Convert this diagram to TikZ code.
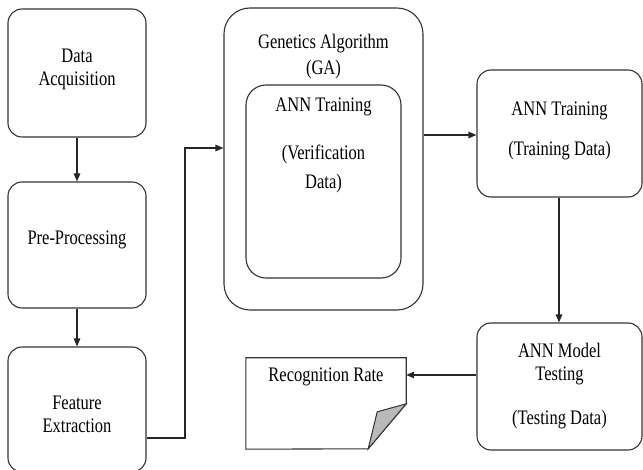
\documentclass[tikz,border=0pt]{standalone}
\usepackage{fontspec}
\usepackage{graphicx}
\setmainfont{Liberation Serif}
\usetikzlibrary{arrows.meta}

% tall narrow lettering, as in the original
\newcommand{\boxtext}[2][0pt]{\raisebox{#1}[\height][\depth]{\scalebox{1}[1.25]{\begin{tabular}{@{}c@{}}#2\end{tabular}}}}

\tikzset{
    >={Triangle[length=8pt,width=6.5pt]},
    box/.style={draw=black!80, line width=1.1pt, rounded corners=14pt, font=\fontsize{16.5}{18.4}\selectfont},
    txt/.style={font=\fontsize{16.5}{18.4}\selectfont},
    link/.style={->, line width=1.3pt, draw=black!85},
}

\begin{document}
\begin{tikzpicture}[x=1pt, y=-1pt]
    \useasboundingbox (0,0) rectangle (643,470);

    \node[box, minimum width=138pt, minimum height=128pt] at (77,73) (acq) {\boxtext[4pt]{Data\\Acquisition}};
    \node[box, minimum width=138pt, minimum height=126pt] at (77,245) (prep) {\boxtext[5pt]{Pre-Processing}};
    \node[box, minimum width=138pt, minimum height=125pt] at (77,409.5) (feat) {\boxtext[-7pt]{Feature\\Extraction}};

    \node[box, rounded corners=26pt, minimum width=199pt, minimum height=302pt] at (323.5,159) (ga) {};
    \node[txt] at (323.5,57) (gatext) {\boxtext{Genetics Algorithm\\[2.4pt](GA)}};
    \node[box, rounded corners=20pt, minimum width=155pt, minimum height=193pt] at (323.5,181.5) (verif) {};
    \node[txt] at (323.5,145) (veriftext) {\boxtext{ANN Training\\[20pt](Verification\\[4.8pt]Data)}};

    \node[box, minimum width=165pt, minimum height=127pt] at (559.5,133.5) (anntrain) {\boxtext[3pt]{ANN Training\\[13.6pt](Training Data)}};
    \node[box, minimum width=165pt, minimum height=127pt] at (559.5,386.5) (anntest) {\boxtext{ANN Model\\Testing\\[16.8pt](Testing Data)}};

    \node[minimum width=160pt, minimum height=91pt] at (326,403.5) (recog) {};
    \node[txt] at (326,377) (recogtext) {\boxtext{Recognition Rate}};
    \draw[black!80, line width=1.1pt] (recog.north west) -- (recog.north east) -- ++(0,46) -- ++(-38,45) -- (recog.south west) -- cycle;
    \filldraw[black!80, fill=gray!55, line width=1pt] (recog.north east) ++(0,46) -- ++(-29,8) -- ++(-9,37) -- cycle;

    \coordinate (bend) at (185,438);
    \draw[link] (acq) -- (prep);
    \draw[link] (prep) -- (feat);
    \draw[link] (feat.east |- bend) -- (bend) |- (ga.west |- 0,148);
    \draw[link] (ga.east |- 0,135) -- (anntrain.west |- 0,135);
    \draw[link] (anntrain.south -| 559,0) -- (anntest.north -| 559,0);
    \draw[link] (anntest.west |- 0,375) -- (recog.east |- 0,375);
\end{tikzpicture}
\end{document}
